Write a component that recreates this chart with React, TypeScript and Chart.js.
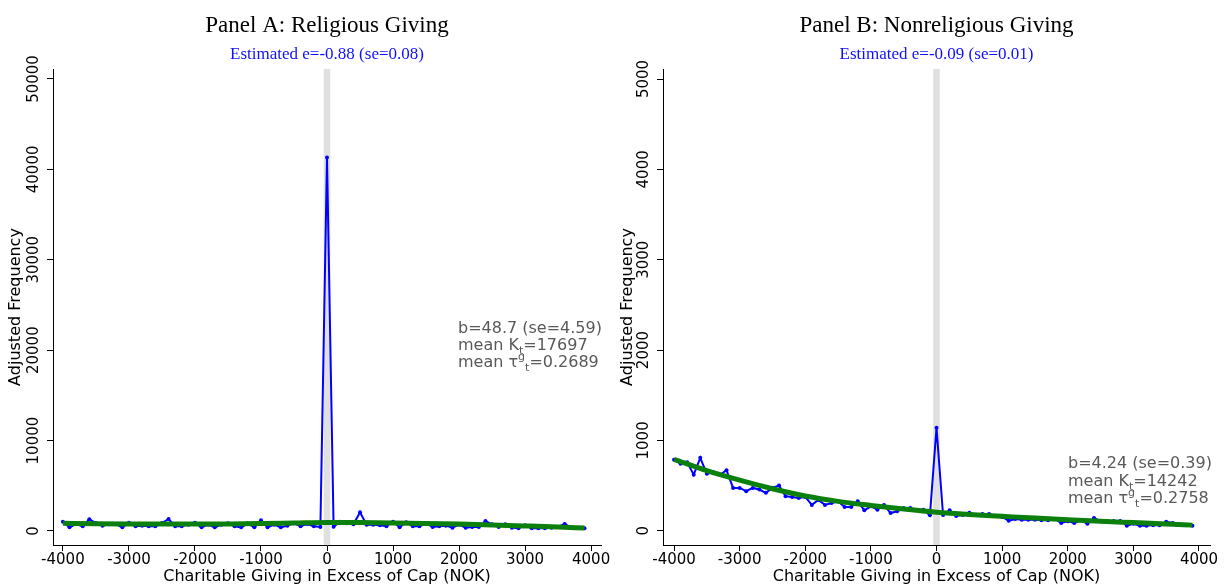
import { useEffect, useRef } from "react";
import { Chart, registerables } from "chart.js";

Chart.register(...registerables);

// Bin centres (NOK relative to the deduction cap)
const givingBins = [
  -4000, -3900, -3800, -3700, -3600, -3500, -3400, -3300, -3200, -3100,
  -3000, -2900, -2800, -2700, -2600, -2500, -2400, -2300, -2200, -2100,
  -2000, -1900, -1800, -1700, -1600, -1500, -1400, -1300, -1200, -1100,
  -1000, -900, -800, -700, -600, -500, -400, -300, -200, -100,
  0, 100, 200, 300, 400, 500, 600, 700, 800, 900,
  1000, 1100, 1200, 1300, 1400, 1500, 1600, 1700, 1800, 1900,
  2000, 2100, 2200, 2300, 2400, 2500, 2600, 2700, 2800, 2900,
  3000, 3100, 3200, 3300, 3400, 3500, 3600, 3700, 3800, 3900,
];

// Adjusted frequencies, religious giving
const religiousFreq = [
  1030, 400, 760, 520, 1290, 880, 590, 750, 750, 400,
  920, 520, 590, 520, 520, 880, 1330, 520, 520, 700,
  920, 400, 700, 400, 700, 850, 520, 400, 850, 400,
  1180, 400, 700, 400, 590, 850, 520, 760, 520, 450,
  41300, 480, 1030, 850, 740, 2060, 700, 700, 630, 520,
  1030, 410, 960, 520, 520, 850, 450, 520, 590, 370,
  700, 370, 450, 450, 1100, 740, 450, 740, 370, 300,
  630, 300, 300, 300, 370, 450, 780, 370, 370, 300,
];

// Adjusted frequencies, nonreligious giving
const nonreligiousFreq = [
  787, 741, 758, 620, 807, 630, 648, 620, 670, 474,
  474, 437, 474, 456, 419, 474, 500, 381, 374, 363,
  374, 286, 341, 286, 307, 326, 263, 263, 326, 226,
  270, 233, 285, 196, 215, 252, 252, 233, 233, 170,
  1140, 174, 226, 163, 174, 200, 174, 185, 185, 163,
  152, 111, 130, 122, 122, 122, 115, 115, 130, 85,
  104, 85, 115, 78, 141, 107, 107, 107, 107, 55,
  78, 55, 55, 62, 62, 100, 85, 70, 62, 55,
];

// Fitted counterfactual density
const fitBins = [
  -4000, -3500, -3000, -2500, -2000, -1500, -1000, -500, 0,
  500, 1000, 1500, 2000, 2500, 3000, 3500, 3900,
];
const religiousFit = [
  850, 810, 780, 760, 760, 780, 820, 880, 940,
  930, 890, 830, 760, 670, 560, 440, 320,
];
const nonreligiousFit = [
  790, 665, 560, 465, 385, 325, 280, 240, 205,
  180, 160, 140, 122, 105, 90, 75, 62,
];

const xTicks = [-4000, -3000, -2000, -1000, 0, 1000, 2000, 3000, 4000];
const religiousYTicks = [0, 10000, 20000, 30000, 40000, 50000];
const nonreligiousYTicks = [0, 1000, 2000, 3000, 4000, 5000];

type Stats = { b: string; k: string; tau: string };

type PanelProps = {
  left: number;
  width: number;
  title: string;
  subtitle: string;
  freq: number[];
  fit: number[];
  yTicks: number[];
  yMin: number;
  yMax: number;
  xMin: number;
  xMax: number;
  axisLeft: number;
  padRight: number;
  stats: Stats;
  statsX: number;
  statsY: number;
  statsGap: number;
};

const SANS = "'DejaVu Sans', sans-serif";
const SERIF = "'Liberation Serif', 'Times New Roman', serif";
const HEIGHT = 585;

const panelDecor = {
  id: "panelDecor",
  beforeDatasetsDraw(chart: any) {
    const { ctx, chartArea, scales } = chart;
    const x0 = scales.x.getPixelForValue(-50);
    const x1 = scales.x.getPixelForValue(50);
    ctx.save();
    ctx.fillStyle = "#e0e0e0";
    ctx.fillRect(x0, chartArea.top, x1 - x0, chartArea.bottom - chartArea.top);
    ctx.restore();
  },
  afterDraw(chart: any, _args: any, opts: any) {
    const { ctx, chartArea, scales } = chart;
    const cx = (chartArea.left + chartArea.right) / 2;
    ctx.save();

    // titles
    ctx.textAlign = "center";
    ctx.textBaseline = "alphabetic";
    ctx.fillStyle = "#000";
    ctx.font = `23px ${SERIF}`;
    ctx.fillText(opts.title, cx, 32);
    ctx.fillStyle = "#1010ff";
    ctx.font = `17px ${SERIF}`;
    ctx.fillText(opts.subtitle, cx, 59);

    // x tick labels and title
    ctx.fillStyle = "#000";
    ctx.font = `15px ${SANS}`;
    for (const v of xTicks) {
      ctx.fillText(String(v), scales.x.getPixelForValue(v), 564);
    }
    ctx.font = `16px ${SANS}`;
    ctx.fillText("Charitable Giving in Excess of Cap (NOK)", cx, 581);

    // y tick labels (rotated)
    ctx.font = `15px ${SANS}`;
    for (const v of opts.yTicks) {
      const y = scales.y.getPixelForValue(v);
      ctx.save();
      ctx.translate(chartArea.left - 15, y);
      ctx.rotate(-Math.PI / 2);
      ctx.textAlign = "center";
      ctx.fillText(String(v), 0, 0);
      ctx.restore();
    }
    // y title
    ctx.save();
    ctx.font = `16px ${SANS}`;
    ctx.translate(20, (chartArea.top + chartArea.bottom) / 2);
    ctx.rotate(-Math.PI / 2);
    ctx.textAlign = "center";
    ctx.fillText("Adjusted Frequency", 0, 0);
    ctx.restore();

    // estimation statistics
    const st: Stats = opts.stats;
    const big = `16px ${SANS}`;
    const small = `11px ${SANS}`;
    ctx.fillStyle = "#595959";
    ctx.textAlign = "left";
    const x = opts.statsX;
    let y = opts.statsY;
    ctx.font = big;
    ctx.fillText(st.b, x, y);

    y += opts.statsGap;
    ctx.font = big;
    ctx.fillText("mean K", x, y);
    let w = ctx.measureText("mean K").width;
    ctx.font = small;
    ctx.fillText("t", x + w, y + 4);
    w += ctx.measureText("t").width;
    ctx.font = big;
    ctx.fillText("=" + st.k, x + w, y);

    y += opts.statsGap;
    ctx.font = big;
    ctx.fillText("mean \u03c4", x, y);
    w = ctx.measureText("mean \u03c4").width;
    ctx.font = small;
    ctx.fillText("g", x + w, y - 7);
    w += ctx.measureText("g").width;
    ctx.fillText("t", x + w, y + 4);
    w += ctx.measureText("t").width;
    ctx.font = big;
    ctx.fillText("=" + st.tau, x + w, y);

    ctx.restore();
  },
};

function Panel(p: PanelProps) {
  const ref = useRef<HTMLCanvasElement | null>(null);

  useEffect(() => {
    if (!ref.current) return;
    const freqPoints = givingBins.map((b, i) => ({ x: b, y: p.freq[i] }));
    const fitPoints = fitBins.map((b, i) => ({ x: b, y: p.fit[i] }));
    const chart = new Chart(ref.current, {
      type: "line",
      data: {
        datasets: [
          {
            data: fitPoints,
            borderColor: "#0c800c",
            borderWidth: 5,
            pointRadius: 0,
            cubicInterpolationMode: "monotone",
            order: 0,
          },
          {
            data: freqPoints,
            borderColor: "#0000ff",
            backgroundColor: "#0000ff",
            borderWidth: 2,
            pointRadius: 2,
            pointBorderWidth: 0,
            pointBackgroundColor: "#0000ff",
            tension: 0,
            order: 1,
          },
        ],
      },
      options: {
        responsive: false,
        animation: false,
        events: [],
        layout: { padding: { top: 69, right: p.padRight, left: 0, bottom: 0 } },
        plugins: {
          legend: { display: false },
          title: { display: false },
          tooltip: { enabled: false },
          panelDecor: {
            title: p.title,
            subtitle: p.subtitle,
            yTicks: p.yTicks,
            stats: p.stats,
            statsX: p.statsX,
            statsY: p.statsY,
            statsGap: p.statsGap,
          },
        } as any,
        scales: {
          x: {
            type: "linear",
            min: p.xMin,
            max: p.xMax,
            afterBuildTicks: (s: any) => {
              s.ticks = xTicks.map((v) => ({ value: v }));
            },
            afterFit: (s: any) => {
              s.height = HEIGHT - 545;
            },
            ticks: { display: false },
            grid: {
              display: true,
              drawOnChartArea: false,
              drawTicks: true,
              tickLength: 6,
              color: "#000",
            },
            border: { display: true, color: "#000", width: 1 },
          },
          y: {
            type: "linear",
            min: p.yMin,
            max: p.yMax,
            afterBuildTicks: (s: any) => {
              s.ticks = p.yTicks.map((v) => ({ value: v }));
            },
            afterFit: (s: any) => {
              s.width = p.axisLeft;
            },
            ticks: { display: false },
            grid: {
              display: true,
              drawOnChartArea: false,
              drawTicks: true,
              tickLength: 6,
              color: "#000",
            },
            border: { display: true, color: "#000", width: 1 },
          },
        },
      },
      plugins: [panelDecor],
    });
    return () => chart.destroy();
  }, []);

  return (
    <canvas
      ref={ref}
      width={p.width}
      height={HEIGHT}
      style={{ position: "absolute", left: p.left, top: 0, width: p.width, height: HEIGHT }}
    />
  );
}

export default function App() {
  return (
    <div
      style={{
        position: "fixed",
        left: 0,
        top: 0,
        width: 1225,
        height: HEIGHT,
        background: "#fff",
        overflow: "hidden",
      }}
    >
      <Panel
        left={0}
        width={612}
        title="Panel A: Religious Giving"
        subtitle="Estimated e=-0.88 (se=0.08)"
        freq={religiousFreq}
        fit={religiousFit}
        yTicks={religiousYTicks}
        yMin={-1550}
        yMax={51100}
        xMin={-4150}
        xMax={4150}
        axisLeft={53}
        padRight={11}
        stats={{ b: "b=48.7 (se=4.59)", k: "17697", tau: "0.2689" }}
        statsX={458}
        statsY={333}
        statsGap={17}
      />
      <Panel
        left={612}
        width={613}
        title="Panel B: Nonreligious Giving"
        subtitle="Estimated e=-0.09 (se=0.01)"
        freq={nonreligiousFreq}
        fit={nonreligiousFit}
        yTicks={nonreligiousYTicks}
        yMin={-158}
        yMax={5111}
        xMin={-4168}
        xMax={4168}
        axisLeft={51}
        padRight={15}
        stats={{ b: "b=4.24 (se=0.39)", k: "14242", tau: "0.2758" }}
        statsX={456}
        statsY={468}
        statsGap={17.5}
      />
    </div>
  );
}
